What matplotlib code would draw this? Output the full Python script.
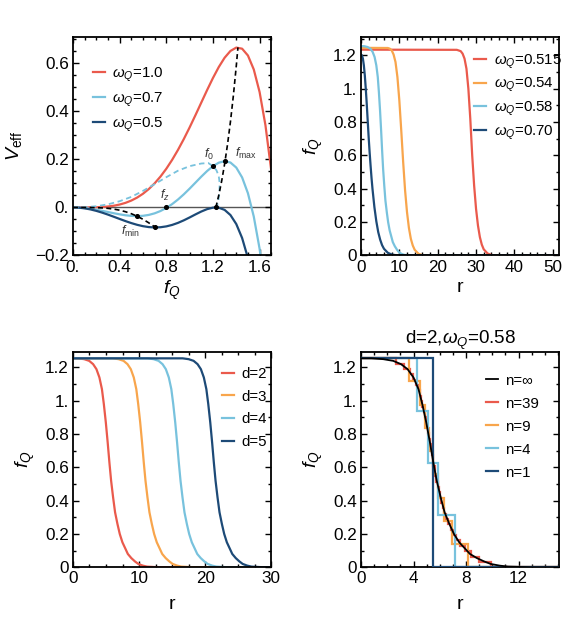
import numpy as np
import matplotlib.pyplot as plt
from matplotlib.ticker import MultipleLocator, FixedLocator, FixedFormatter

plt.rcParams['font.family'] = ['Liberation Sans', 'DejaVu Sans']
plt.rcParams['mathtext.fontset'] = 'custom'
plt.rcParams['mathtext.rm'] = 'Liberation Sans'
plt.rcParams['mathtext.it'] = 'Liberation Sans:italic'
plt.rcParams['mathtext.bf'] = 'Liberation Sans:bold'

RED = '#EA5A4C'
ORANGE = '#F8A54C'
LBLUE = '#78C2DD'
DBLUE = '#1D4A77'

# ---- panel 1: effective potential ----
f_grid = [0, 0.05, 0.1, 0.15, 0.2, 0.25, 0.3, 0.35, 0.4, 0.45, 0.5, 0.55, 0.6, 0.65,
          0.7, 0.75, 0.8, 0.85, 0.9, 0.95, 1.0, 1.05, 1.1, 1.15, 1.2, 1.25, 1.3, 1.35,
          1.4, 1.45, 1.5, 1.55, 1.6, 1.65, 1.7, 1.72]
v_w10 = [0, 0.000003, 0.00005, 0.00025, 0.00079, 0.00191, 0.00393, 0.0072, 0.01212,
         0.01912, 0.02865, 0.04114, 0.05702, 0.07668, 0.10044, 0.12854, 0.16111,
         0.19815, 0.23948, 0.28474, 0.33333, 0.3844, 0.43679, 0.48899, 0.53914,
         0.58492, 0.62358, 0.65185, 0.66588, 0.66123, 0.63281, 0.5748, 0.4806,
         0.3428, 0.15312, 0.0607]
v_w07 = [0, -0.00063, -0.0025, -0.00549, -0.00941, -0.01403, -0.01902, -0.02404,
         -0.02868, -0.03252, -0.0351, -0.036, -0.03478, -0.03106, -0.02451, -0.0149,
         -0.00209, 0.01391, 0.03293, 0.0546, 0.07833, 0.10327, 0.12824, 0.15176,
         0.17194, 0.18648, 0.19263, 0.18711, 0.16608, 0.1251, 0.05906, -0.03784,
         -0.1722, -0.3514]
f_w05 = [0, 0.05, 0.1, 0.15, 0.2, 0.25, 0.3, 0.35, 0.4, 0.45, 0.5, 0.55, 0.6, 0.65,
         0.7, 0.75, 0.8, 0.85, 0.9, 0.95, 1.0, 1.05, 1.1, 1.15, 1.2, 1.2247, 1.25,
         1.3, 1.35, 1.4, 1.45, 1.5]
v_w05 = [0, -0.00094, -0.0037, -0.00819, -0.01421, -0.02153, -0.02982, -0.03874,
         -0.04788, -0.05682, -0.0651, -0.0723, -0.07798, -0.08176, -0.08331, -0.0824,
         -0.07889, -0.07279, -0.06427, -0.0537, -0.04167, -0.02903, -0.01696,
         -0.00695, -0.00086, 0.0, -0.00102, -0.01017, -0.03159, -0.06912, -0.1272,
         -0.21094]

# dashed auxiliary curve through f0
f_aux = [0, 0.1, 0.2, 0.3, 0.4, 0.5, 0.6, 0.7, 0.8, 0.9, 1.0, 1.1, 1.16, 1.2, 1.23,
         1.25, 1.258, 1.255, 1.245, 1.232]
v_aux = [0, 0.001, 0.005, 0.013, 0.026, 0.044, 0.069, 0.097, 0.126, 0.153, 0.172,
         0.183, 0.185, 0.172, 0.155, 0.13, 0.1, 0.06, 0.025, 0.0]

# locus of minima / maxima
f_minloc = [0, 0.1, 0.2, 0.25, 0.3, 0.35, 0.4, 0.45, 0.5, 0.55, 0.6, 0.65, 0.675, 0.7071]
v_minloc = [0, -0.00005, -0.00078, -0.00187, -0.0038, -0.00689, -0.01143, -0.01774,
            -0.02604, -0.03653, -0.04925, -0.06411, -0.07227, -0.08333]
f_maxloc = [1.2247, 1.25, 1.275, 1.3, 1.325, 1.35, 1.375, 1.4, 1.4142]
v_maxloc = [0.0, 0.05086, 0.11066, 0.18089, 0.26263, 0.35706, 0.46543, 0.58905, 0.66667]

pt_f = [0.548, 0.7071, 0.8, 1.2, 1.3, 1.2247]
pt_v = [-0.036, -0.0833, 0.0, 0.172, 0.1926, 0.0]

# ---- shared profile: omega=0.58, d=2 ----
r_w058 = [0, 0.8, 1.7, 2.45, 3.05, 3.55, 4.0, 4.38, 4.67, 4.97, 5.25, 5.51, 5.77, 6.07,
          6.37, 6.73, 7.08, 7.48, 7.95, 8.3, 8.83, 9.38, 9.88, 10.55, 11.2, 13.0, 52]
f_w058 = [1.255, 1.255, 1.25, 1.24, 1.22, 1.19, 1.14, 1.07, 0.98, 0.87, 0.75, 0.63,
          0.52, 0.42, 0.33, 0.26, 0.2, 0.15, 0.11, 0.08, 0.055, 0.035, 0.02, 0.01,
          0.004, 0.0, 0.0]

# ---- panel 2: profiles for several omega ----
r_w0515 = [0, 25, 26, 26.5, 27, 27.5, 28, 28.5, 29, 29.5, 30, 30.5, 31, 31.5, 32, 33,
           34, 35, 52]
f_w0515 = [1.234, 1.233, 1.225, 1.21, 1.18, 1.12, 1.0, 0.82, 0.6, 0.42, 0.28, 0.18,
           0.11, 0.065, 0.037, 0.012, 0.003, 0.0, 0.0]
r_w054 = [0, 7, 7.5, 8, 8.5, 9, 9.5, 10, 10.5, 11, 11.5, 12, 12.5, 13, 13.5, 14, 15,
          16, 17, 52]
f_w054 = [1.245, 1.244, 1.24, 1.23, 1.205, 1.16, 1.07, 0.93, 0.75, 0.56, 0.39, 0.26,
          0.165, 0.1, 0.06, 0.034, 0.01, 0.002, 0.0, 0.0]
r_w070 = [0, 0.25, 0.5, 0.75, 1.0, 1.25, 1.5, 1.75, 2.0, 2.25, 2.5, 2.75, 3.0, 3.5,
          4.0, 4.5, 5, 5.5, 6, 7, 8, 9, 10, 52]
f_w070 = [1.205, 1.2, 1.18, 1.14, 1.08, 1.0, 0.91, 0.81, 0.71, 0.62, 0.54, 0.465, 0.4,
          0.29, 0.205, 0.14, 0.095, 0.062, 0.04, 0.016, 0.006, 0.002, 0.0, 0.0]

# ---- panel 3: profiles for several d (same f levels as f_w058) ----
r_d3 = [0, 6.0, 6.9, 7.65, 8.25, 8.75, 9.2, 9.58, 9.87, 10.17, 10.45, 10.71, 10.97,
        11.27, 11.57, 11.93, 12.28, 12.68, 13.15, 13.5, 14.03, 14.58, 15.08, 15.75,
        16.4, 18.2, 30]
r_d4 = [0, 11.3, 12.2, 12.95, 13.55, 14.05, 14.5, 14.88, 15.17, 15.47, 15.75, 16.01,
        16.27, 16.57, 16.87, 17.23, 17.58, 17.98, 18.45, 18.8, 19.33, 19.88, 20.38,
        21.05, 21.7, 23.5, 30]
r_d5 = [0, 16.6, 17.5, 18.25, 18.85, 19.35, 19.8, 20.18, 20.47, 20.77, 21.05, 21.31,
        21.57, 21.87, 22.17, 22.53, 22.88, 23.28, 23.75, 24.1, 24.63, 25.18, 25.68,
        26.35, 27.0, 28.8, 30]

# ---- panel 4: step approximations ----
edges_n1 = [5.52]
levels_n1 = [1.255, 0.0]
edges_n4 = [4.25, 5.14, 5.9, 7.18]
levels_n4 = [1.255, 0.941, 0.627, 0.314, 0.0]
edges_n9 = [3.65, 4.46, 4.88, 5.21, 5.52, 5.87, 6.31, 6.92, 8.15]
levels_n9 = [1.255, 1.116, 0.976, 0.837, 0.697, 0.558, 0.418, 0.279, 0.139, 0.0]
edges_n39 = [2.7, 3.29, 3.70, 3.98, 4.19, 4.33, 4.46, 4.57, 4.66, 4.77, 4.85, 4.94,
             5.02, 5.09, 5.16, 5.24, 5.31, 5.38, 5.45, 5.52, 5.60, 5.67, 5.75, 5.84,
             5.93, 6.02, 6.13, 6.23, 6.35, 6.48, 6.64, 6.83, 7.02, 7.25, 7.53, 7.9,
             8.38, 8.98, 9.9]
levels_n39 = [1.255, 1.223, 1.191, 1.158, 1.126, 1.094, 1.062, 1.030, 0.998, 0.965,
              0.933, 0.901, 0.869, 0.837, 0.804, 0.772, 0.740, 0.708, 0.676, 0.644,
              0.611, 0.579, 0.547, 0.515, 0.483, 0.450, 0.418, 0.386, 0.354, 0.322,
              0.290, 0.257, 0.225, 0.193, 0.161, 0.129, 0.097, 0.064, 0.032, 0.0]

LW = 1.6
TICK_FS = 12.3
LABEL_FS = 14
LEG_FS = 10.8


def style(ax, xmaj, xmin, ymin_step, xlabels, ylabels, yticks):
    ax.xaxis.set_major_locator(FixedLocator(xmaj))
    ax.xaxis.set_major_formatter(FixedFormatter(xlabels))
    ax.xaxis.set_minor_locator(MultipleLocator(xmin))
    ax.yaxis.set_major_locator(FixedLocator(yticks))
    ax.yaxis.set_major_formatter(FixedFormatter(ylabels))
    ax.yaxis.set_minor_locator(MultipleLocator(ymin_step))
    ax.tick_params(which='both', direction='in', top=True, right=True, width=1.0,
                   labelsize=TICK_FS, pad=3)
    ax.tick_params(which='major', length=4.5)
    ax.tick_params(which='minor', length=2.5)
    for s in ax.spines.values():
        s.set_linewidth(1.3)


def legend(ax, x, y, spacing, handles=None, labels=None):
    kw = dict(loc='upper left', bbox_to_anchor=(x, y), frameon=False, fontsize=LEG_FS,
              handlelength=0.8, handletextpad=0.5, labelspacing=spacing,
              borderpad=0, borderaxespad=0)
    if handles is None:
        ax.legend(**kw)
    else:
        ax.legend(handles, labels, **kw)


fig = plt.figure(figsize=(5.81, 6.28), dpi=100)
L1, L2, W = 0.1256, 0.6213, 0.3413
ax1 = fig.add_axes([L1, 0.5932, W, 0.3479])
ax2 = fig.add_axes([L2, 0.5932, W, 0.3479])
ax3 = fig.add_axes([L1, 0.0967, W, 0.3433])
ax4 = fig.add_axes([L2, 0.0967, W, 0.3433])

yl = ['0', '0.2', '0.4', '0.6', '0.8', '1.', '1.2']
yt = [0, 0.2, 0.4, 0.6, 0.8, 1.0, 1.2]

# panel 1
ax1.axhline(0, color='#555555', lw=1.0, zorder=1)
ax1.plot(f_grid, v_w10, color=RED, lw=LW, label=r'$\omega_Q$=1.0')
ax1.plot(f_grid[:34], v_w07, color=LBLUE, lw=LW, label=r'$\omega_Q$=0.7')
ax1.plot(f_w05, v_w05, color=DBLUE, lw=LW, label=r'$\omega_Q$=0.5')
ax1.plot(f_aux, v_aux, color=LBLUE, lw=1.3, ls=(0, (3, 2)))
ax1.plot(f_minloc, v_minloc, color='black', lw=1.2, ls=(0, (3, 2)))
ax1.plot(f_maxloc, v_maxloc, color='black', lw=1.2, ls=(0, (3, 2)))
ax1.scatter(pt_f, pt_v, s=7, color='black', zorder=5)
lab_kw = dict(fontsize=9, color='#333333')
ax1.text(1.17, 0.19, r'$f_0$', ha='center', va='bottom', **lab_kw)
ax1.text(1.39, 0.195, r'$f_{\mathrm{max}}$', ha='left', va='bottom', **lab_kw)
ax1.text(0.79, 0.02, r'$f_z$', ha='center', va='bottom', **lab_kw)
ax1.text(0.49, -0.1, r'$f_{\mathrm{min}}$', ha='center', va='center', **lab_kw)
ax1.set_xlim(0, 1.7)
ax1.set_ylim(-0.2, 0.71)
style(ax1, [0, 0.4, 0.8, 1.2, 1.6], 0.1, 0.05, ['0.', '0.4', '0.8', '1.2', '1.6'],
      ['\u22120.2', '0.', '0.2', '0.4', '0.6'], [-0.2, 0, 0.2, 0.4, 0.6])
ax1.set_xlabel(r'$f_Q$', fontsize=LABEL_FS, labelpad=3)
ax1.set_ylabel(r'$V_{\mathrm{eff}}$', fontsize=LABEL_FS, labelpad=8)
legend(ax1, 0.1, 0.87, 0.45)

# panel 2
ax2.plot(r_w0515, f_w0515, color=RED, lw=LW, label=r'$\omega_Q$=0.515')
ax2.plot(r_w054, f_w054, color=ORANGE, lw=LW, label=r'$\omega_Q$=0.54')
ax2.plot(r_w058, f_w058, color=LBLUE, lw=LW, label=r'$\omega_Q$=0.58')
ax2.plot(r_w070, f_w070, color=DBLUE, lw=LW, label=r'$\omega_Q$=0.70')
ax2.set_xlim(0, 51.7)
ax2.set_ylim(0, 1.31)
style(ax2, [0, 10, 20, 30, 40, 50], 2, 0.1, ['0', '10', '20', '30', '40', '50'], yl, yt)
ax2.set_xlabel('r', fontsize=LABEL_FS, labelpad=3)
ax2.set_ylabel(r'$f_Q$', fontsize=LABEL_FS, labelpad=6)
legend(ax2, 0.57, 0.93, 0.36)

# panel 3
ax3.plot(r_w058, f_w058, color=RED, lw=LW, label='d=2')
ax3.plot(r_d3, f_w058, color=ORANGE, lw=LW, label='d=3')
ax3.plot(r_d4, f_w058, color=LBLUE, lw=LW, label='d=4')
ax3.plot(r_d5, f_w058, color=DBLUE, lw=LW, label='d=5')
ax3.set_xlim(0, 30)
ax3.set_ylim(0, 1.295)
style(ax3, [0, 10, 20, 30], 2.5, 0.1, ['0', '10', '20', '30'], yl, yt)
ax3.set_xlabel('r', fontsize=LABEL_FS, labelpad=7)
ax3.set_ylabel(r'$f_Q$', fontsize=LABEL_FS, labelpad=6)
legend(ax3, 0.75, 0.93, 0.59)

# panel 4
XMAX4 = 15.1
ax4.stairs(levels_n39, [0] + edges_n39 + [XMAX4], baseline=None, color=RED, lw=LW,
           label='n=39', zorder=2)
ax4.stairs(levels_n9, [0] + edges_n9 + [XMAX4], baseline=None, color=ORANGE, lw=LW,
           label='n=9', zorder=2)
ax4.stairs(levels_n4, [0] + edges_n4 + [XMAX4], baseline=None, color=LBLUE, lw=LW,
           label='n=4', zorder=3)
ax4.stairs(levels_n1, [0] + edges_n1 + [XMAX4], baseline=None, color=DBLUE, lw=LW,
           label='n=1', zorder=3)
ax4.plot(r_w058, f_w058, color='black', lw=1.3, label='n=\u221e', zorder=4)
ax4.set_xlim(0, XMAX4)
ax4.set_ylim(0, 1.295)
style(ax4, [0, 4, 8, 12], 1, 0.1, ['0', '4', '8', '12'], yl, yt)
ax4.set_xlabel('r', fontsize=LABEL_FS, labelpad=7)
ax4.set_ylabel(r'$f_Q$', fontsize=LABEL_FS, labelpad=6)
ax4.set_title(r'd=2,$\omega_Q$=0.58', fontsize=13.5, pad=5)
h, l = ax4.get_legend_handles_labels()
order = [4, 0, 1, 2, 3]
legend(ax4, 0.63, 0.898, 0.6, [h[i] for i in order], [l[i] for i in order])

fig.savefig('out.png', dpi=100)
